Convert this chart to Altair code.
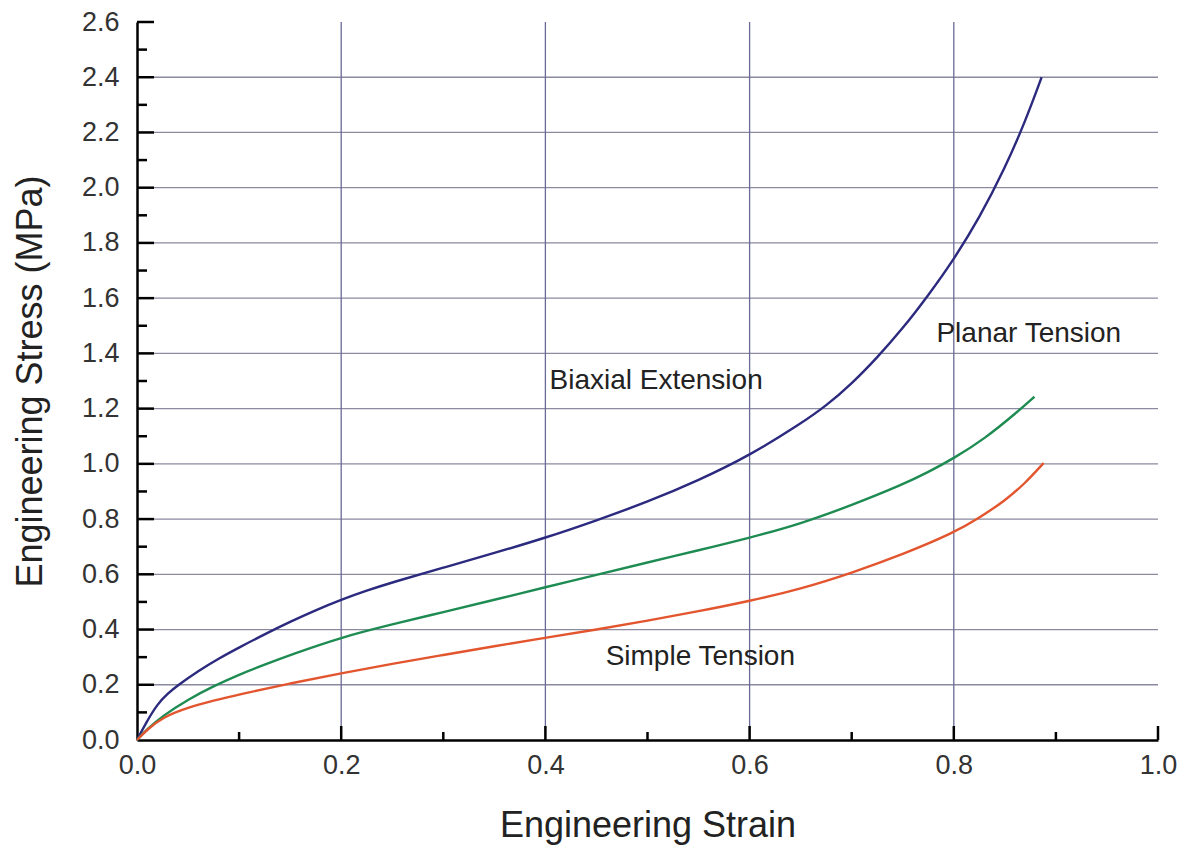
import altair as alt
import pandas as pd

# ---- data ----
series_names = ["Biaxial Extension", "Planar Tension", "Simple Tension"]
series_colors = ["#2c2a7e", "#1e8c52", "#e2552e"]

strain_biaxial = [0, 0.01, 0.02, 0.03, 0.04, 0.06, 0.08, 0.1, 0.125, 0.15, 0.175, 0.2, 0.225,
                  0.25, 0.3, 0.35, 0.4, 0.45, 0.5, 0.55, 0.6, 0.65, 0.675, 0.7, 0.725, 0.75,
                  0.775, 0.8, 0.825, 0.85, 0.87, 0.886]
stress_biaxial = [0, 0.07, 0.13, 0.168, 0.198, 0.25, 0.295, 0.335, 0.383, 0.428, 0.47, 0.508, 0.541,
                  0.571, 0.624, 0.677, 0.732, 0.795, 0.862, 0.94, 1.03, 1.145, 1.21, 1.29, 1.385, 1.49,
                  1.61, 1.74, 1.89, 2.07, 2.24, 2.4]

strain_planar = [0, 0.01, 0.025, 0.05, 0.075, 0.1, 0.125, 0.15, 0.2, 0.25, 0.3, 0.35, 0.4, 0.45,
                 0.5, 0.55, 0.6, 0.65, 0.7, 0.75, 0.775, 0.8, 0.83, 0.863, 0.879]
stress_planar = [0, 0.04, 0.087, 0.147, 0.195, 0.237, 0.273, 0.308, 0.372, 0.419, 0.463, 0.508, 0.553,
                 0.598, 0.643, 0.687, 0.732, 0.783, 0.85, 0.925, 0.97, 1.02, 1.09, 1.19, 1.243]

strain_simple = [0, 0.01, 0.025, 0.05, 0.075, 0.1, 0.15, 0.2, 0.25, 0.3, 0.35, 0.4, 0.45, 0.5,
                 0.55, 0.6, 0.65, 0.7, 0.75, 0.8, 0.825, 0.85, 0.87, 0.888]
stress_simple = [0, 0.038, 0.082, 0.118, 0.143, 0.165, 0.205, 0.242, 0.276, 0.308, 0.34, 0.37, 0.4,
                 0.432, 0.466, 0.503, 0.547, 0.605, 0.672, 0.75, 0.805, 0.866, 0.93, 1.003]

label_text = ["Biaxial Extension", "Planar Tension", "Simple Tension"]
label_x = [0.404, 0.783, 0.459]
label_y = [1.30, 1.472, 0.30]

x_labels = [0.0, 0.2, 0.4, 0.6, 0.8, 1.0]
y_labels = [0.0, 0.2, 0.4, 0.6, 0.8, 1.0, 1.2, 1.4, 1.6, 1.8, 2.0, 2.2, 2.4, 2.6]
x_grid = [0.2, 0.4, 0.6, 0.8]
y_grid = [0.2, 0.4, 0.6, 0.8, 1.0, 1.2, 1.4, 1.6, 1.8, 2.0, 2.2, 2.4]
x_major_ticks = [0.2, 0.4, 0.6, 0.8, 1.0]
x_minor_ticks = [0.1, 0.3, 0.5, 0.7, 0.9]
y_major_ticks = [0.2, 0.4, 0.6, 0.8, 1.0, 1.2, 1.4, 1.6, 1.8, 2.0, 2.2, 2.4, 2.6]
y_minor_ticks = [0.1, 0.3, 0.5, 0.7, 0.9, 1.1, 1.3, 1.5, 1.7, 1.9, 2.1, 2.3, 2.5]

# ---- tables ----
rows = []
for name, xs, ys in [(series_names[0], strain_biaxial, stress_biaxial),
                     (series_names[1], strain_planar, stress_planar),
                     (series_names[2], strain_simple, stress_simple)]:
    for i, (a, b) in enumerate(zip(xs, ys)):
        rows.append({"series": name, "strain": a, "stress": b, "order": i})
df = pd.DataFrame(rows)
labels_df = pd.DataFrame({"text": label_text, "x": label_x, "y": label_y})

W, H = 1021, 718
FONT = "Liberation Sans"
XS = alt.Scale(domain=[0, 1], nice=False, zero=False)
YS = alt.Scale(domain=[0, 2.6], nice=False, zero=False)

XA = alt.Axis(title="Engineering Strain", values=x_labels, format=".1f", grid=False,
              ticks=False, domainColor="black", domainWidth=2.5, labelFlush=False,
              labelFont=FONT, labelFontSize=27, labelColor="#333", labelPadding=12,
              titleFont=FONT, titleFontSize=36, titleFontWeight="normal",
              titleColor="#222", titlePadding=30)
YA = alt.Axis(title="Engineering Stress (MPa)", values=y_labels, format=".1f", grid=False,
              ticks=False, domainColor="black", domainWidth=2.5, labelFlush=False,
              labelFont=FONT, labelFontSize=27, labelColor="#333", labelPadding=18,
              titleFont=FONT, titleFontSize=36, titleFontWeight="normal",
              titleColor="#222", titlePadding=32)

lines = alt.Chart(df).mark_line(strokeWidth=2.4, interpolate="basis").encode(
    x=alt.X("strain:Q", scale=XS, axis=XA),
    y=alt.Y("stress:Q", scale=YS, axis=YA),
    color=alt.Color("series:N", scale=alt.Scale(domain=series_names, range=series_colors), legend=None),
    order="order:Q",
)

hgrid = alt.Chart(pd.DataFrame({"v": y_grid})).mark_rule(color="#8a8aa0", strokeWidth=1.3).encode(
    y=alt.Y("v:Q", scale=YS, axis=YA), x=alt.value(0), x2=alt.value(W))
vgrid = alt.Chart(pd.DataFrame({"v": x_grid})).mark_rule(color="#6a6a96", strokeWidth=1.3).encode(
    x=alt.X("v:Q", scale=XS, axis=XA), y=alt.value(0), y2=alt.value(H))

xt_major = alt.Chart(pd.DataFrame({"v": x_major_ticks})).mark_rule(color="black", strokeWidth=2.5).encode(
    x=alt.X("v:Q", scale=XS, axis=XA), y=alt.value(H), y2=alt.value(H - 14))
xt_minor = alt.Chart(pd.DataFrame({"v": x_minor_ticks})).mark_rule(color="black", strokeWidth=2.5).encode(
    x=alt.X("v:Q", scale=XS, axis=XA), y=alt.value(H), y2=alt.value(H - 8))
yt_major = alt.Chart(pd.DataFrame({"v": y_major_ticks})).mark_rule(color="black", strokeWidth=2.5).encode(
    y=alt.Y("v:Q", scale=YS, axis=YA), x=alt.value(0), x2=alt.value(17))
yt_minor = alt.Chart(pd.DataFrame({"v": y_minor_ticks})).mark_rule(color="black", strokeWidth=2.5).encode(
    y=alt.Y("v:Q", scale=YS, axis=YA), x=alt.value(0), x2=alt.value(10))

texts = alt.Chart(labels_df).mark_text(align="left", baseline="middle", font=FONT, fontSize=28,
                                       color="#222").encode(
    x=alt.X("x:Q", scale=XS, axis=XA), y=alt.Y("y:Q", scale=YS, axis=YA), text="text:N")

chart = alt.layer(hgrid, vgrid, xt_major, xt_minor, yt_major, yt_minor, lines, texts).properties(
    width=W, height=H,
    autosize=alt.AutoSizeParams(type="none"),
    padding={"left": 137, "top": 22, "right": 28, "bottom": 110},
    background="white",
).configure_view(stroke=None)

chart.save("out.html", embed_options={"renderer": "svg", "actions": False})
